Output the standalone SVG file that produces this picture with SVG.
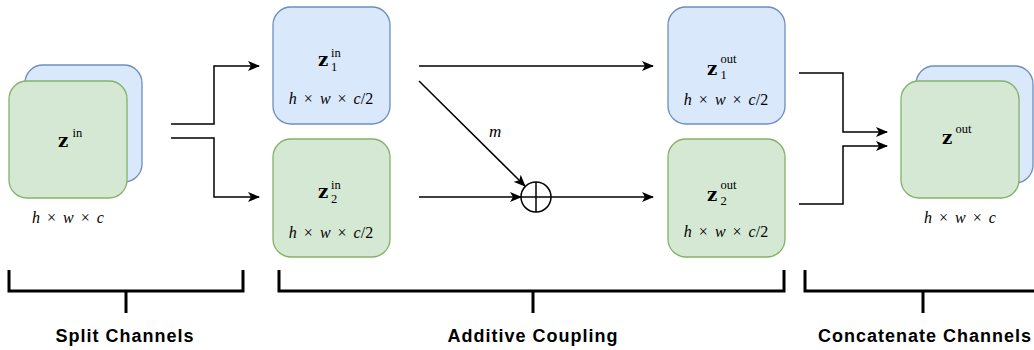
<svg xmlns="http://www.w3.org/2000/svg" width="1034" height="350" viewBox="0 0 1034 350">
  <style>
    .blue { fill: #dae8fc; stroke: #6c8ebf; stroke-width: 1.3; }
    .green { fill: #d5e8d4; stroke: #82b366; stroke-width: 1.3; }
    .wire { fill: none; stroke: #000; stroke-width: 1.5; }
    .brace { fill: none; stroke: #000; stroke-width: 3; }
    .bz { font-family: "DejaVu Serif", "Liberation Serif", serif; font-weight: bold; font-size: 18px; fill: #000; }
    .sc { font-family: "Liberation Serif", "DejaVu Serif", serif; font-size: 12.5px; fill: #000; }
    .dim { font-family: "Liberation Serif", "DejaVu Serif", serif; font-style: italic; font-size: 16px; word-spacing: 3px; fill: #000; text-anchor: middle; }
    .up { font-style: normal; }
    .cap { font-family: "Liberation Sans", Arial, sans-serif; font-weight: bold; font-size: 18px; letter-spacing: 1px; fill: #000; text-anchor: middle; }
  </style>
  <defs>
    <marker id="arr" markerWidth="12" markerHeight="10" refX="11" refY="5" orient="auto" markerUnits="userSpaceOnUse">
      <path d="M0,0 L12,5 L0,10 L3,5 Z" fill="#000"/>
    </marker>
  </defs>

  <!-- input tensor -->
  <g id="z-in">
    <rect class="blue" x="25" y="65" width="117" height="117" rx="18"/>
    <rect class="green" x="9" y="81" width="118" height="117" rx="18"/>
    <text class="bz" x="58" y="147">z</text>
    <text class="sc" x="72.5" y="137">in</text>
    <text class="dim" x="68" y="223">h <tspan class="up">×</tspan> w <tspan class="up">×</tspan> c</text>
  </g>

  <!-- first half in -->
  <g id="z1-in">
    <rect class="blue" x="273" y="7" width="117" height="117" rx="18"/>
    <text class="bz" x="318" y="66">z</text>
    <text class="sc" x="331" y="57">in</text>
    <text class="sc" x="331" y="71">1</text>
    <text class="dim" x="331" y="104">h <tspan class="up">×</tspan> w <tspan class="up">×</tspan> c<tspan class="up">/2</tspan></text>
  </g>

  <!-- second half in -->
  <g id="z2-in">
    <rect class="green" x="273" y="139" width="117" height="118" rx="18"/>
    <text class="bz" x="318" y="198">z</text>
    <text class="sc" x="331" y="189">in</text>
    <text class="sc" x="331" y="203">2</text>
    <text class="dim" x="331" y="238">h <tspan class="up">×</tspan> w <tspan class="up">×</tspan> c<tspan class="up">/2</tspan></text>
  </g>

  <!-- additive merge -->
  <g id="plus">
    <circle cx="536" cy="197" r="15" fill="#fff" stroke="#000" stroke-width="1.5"/>
    <line x1="521" y1="197" x2="551" y2="197" stroke="#000" stroke-width="1.5"/>
    <line x1="536" y1="182" x2="536" y2="212" stroke="#000" stroke-width="1.5"/>
  </g>

  <!-- first half out -->
  <g id="z1-out">
    <rect class="blue" x="668" y="7" width="117" height="117" rx="18"/>
    <text class="bz" x="707" y="75">z</text>
    <text class="sc" x="720.5" y="63">out</text>
    <text class="sc" x="720.5" y="79">1</text>
    <text class="dim" x="726" y="105">h <tspan class="up">×</tspan> w <tspan class="up">×</tspan> c<tspan class="up">/2</tspan></text>
  </g>

  <!-- second half out -->
  <g id="z2-out">
    <rect class="green" x="668" y="139" width="117" height="118" rx="18"/>
    <text class="bz" x="707" y="201">z</text>
    <text class="sc" x="720.5" y="189">out</text>
    <text class="sc" x="720.5" y="205">2</text>
    <text class="dim" x="726" y="237">h <tspan class="up">×</tspan> w <tspan class="up">×</tspan> c<tspan class="up">/2</tspan></text>
  </g>

  <!-- output tensor -->
  <g id="z-out">
    <rect class="blue" x="916" y="66" width="117" height="117" rx="18"/>
    <rect class="green" x="901" y="81" width="118" height="117" rx="18"/>
    <text class="bz" x="942" y="144">z</text>
    <text class="sc" x="955.5" y="133">out</text>
    <text class="dim" x="960" y="223">h <tspan class="up">×</tspan> w <tspan class="up">×</tspan> c</text>
  </g>

  <!-- connectors -->
  <g id="connectors">
    <polyline class="wire" points="171,124 214,124 214,66 259,66" marker-end="url(#arr)"/>
    <polyline class="wire" points="171,138 214,138 214,197 259,197" marker-end="url(#arr)"/>
    <line class="wire" x1="419" y1="66" x2="653" y2="66" marker-end="url(#arr)"/>
    <line class="wire" x1="419" y1="81" x2="525" y2="186" marker-end="url(#arr)"/>
    <text x="489" y="137" font-family="Liberation Serif, DejaVu Serif, serif" font-style="italic" font-size="17">m</text>
    <line class="wire" x1="419" y1="197" x2="521" y2="197" marker-end="url(#arr)"/>
    <line class="wire" x1="551" y1="197" x2="653" y2="197" marker-end="url(#arr)"/>
    <polyline class="wire" points="799,73 843,73 843,132 887,132" marker-end="url(#arr)"/>
    <polyline class="wire" points="799,204 843,204 843,146 887,146" marker-end="url(#arr)"/>
  </g>

  <!-- stage brackets -->
  <g id="split-channels">
    <polyline class="brace" points="9,270 9,291 243,291 243,270"/>
    <line class="brace" x1="126" y1="291" x2="126" y2="313"/>
    <text class="cap" x="125" y="342">Split Channels</text>
  </g>
  <g id="additive-coupling">
    <polyline class="brace" points="279,270 279,291 784,291 784,270"/>
    <line class="brace" x1="533" y1="291" x2="533" y2="313"/>
    <text class="cap" x="533" y="342">Additive Coupling</text>
  </g>
  <g id="concatenate-channels">
    <polyline class="brace" points="805,270 805,291 1036,291"/>
    <line class="brace" x1="923" y1="291" x2="923" y2="313"/>
    <text class="cap" x="925" y="342">Concatenate Channels</text>
  </g>
</svg>
